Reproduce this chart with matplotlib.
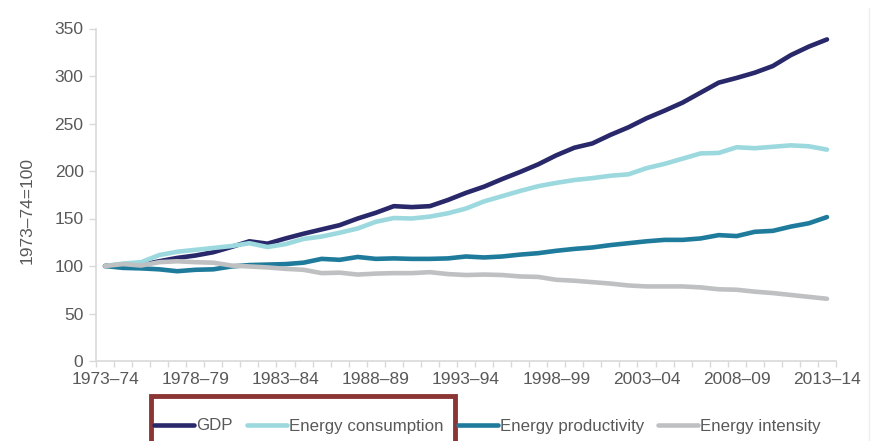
import matplotlib
matplotlib.use("Agg")
import matplotlib.pyplot as plt
from matplotlib.patches import Rectangle
from matplotlib.lines import Line2D

plt.rcParams['font.family'] = ['Liberation Sans', 'DejaVu Sans']

# ---- data ----
years = list(range(1973, 2014))
categories = [f"{y}\u2013{str(y + 1)[-2:]}" for y in years]
tick_labels = ["1973\u201374", "1978\u201379", "1983\u201384", "1988\u201389", "1993\u201394",
               "1998\u201399", "2003\u201304", "2008\u201309", "2013\u201314"]

gdp = [100, 101.5, 101, 105, 108.5, 111, 114.5, 120, 126, 123.5,
       129, 134, 138.5, 143, 150, 156, 163, 162, 163, 169.5,
       177, 183.5, 191.5, 199, 207, 216.5, 224.5, 229, 238, 246,
       255.5, 263.5, 272, 282.5, 293, 298, 303.5, 310.5, 322, 331, 338.5]
consumption = [100, 102.5, 104, 111.5, 115, 117, 119, 121, 124, 120,
               123, 128.5, 131, 135, 139.5, 146.5, 150.5, 150, 152, 155.5,
               160.5, 168, 173.5, 179, 184, 187.5, 190.5, 192.5, 195, 196.5,
               203, 207.5, 213, 218.5, 219, 225, 224, 225.5, 227, 226, 222.5]
productivity = [100, 98, 97.5, 96.5, 94.5, 96, 96.5, 99.5, 101, 101.5,
                102, 103.5, 107.5, 106.5, 109.5, 107.5, 108, 107.5, 107.5, 108,
                110, 109, 110, 112, 113.5, 116, 118, 119.5, 122, 124,
                126, 127.5, 127.5, 129, 132.5, 131.5, 136, 137, 141.5, 145, 151.5]
intensity = [100, 102, 100.5, 104, 105, 104, 103.5, 100.5, 99.5, 98.5,
             97, 96, 92.5, 93, 91, 92, 92.5, 92.5, 93.5, 91.5,
             90.5, 91, 90.5, 89, 88.5, 85.5, 84.5, 83, 81.5, 79.5,
             78.5, 78.5, 78.5, 77.5, 75.5, 75, 73, 71.5, 69.5, 67.5, 65.5]

series_names = ["GDP", "Energy consumption", "Energy productivity", "Energy intensity"]
series_values = [gdp, consumption, productivity, intensity]
colors = ["#28286B", "#9CD9DF", "#1F7B9C", "#BEC0C2"]

# ---- figure ----
W, H = 874, 441
fig = plt.figure(figsize=(W / 100, H / 100), dpi=100)
ax = fig.add_axes([96 / W, 1 - 361 / H, (836 - 96) / W, (361 - 28.5) / H])

x = list(range(len(categories)))
handles = []
for name, vals, c in zip(series_names, series_values, colors):
    h, = ax.plot(x, vals, color=c, lw=3.3, solid_capstyle='round',
                 solid_joinstyle='round', label=name)
    handles.append(h)

ax.set_xlim(-0.5, len(categories) - 0.5)
ax.set_ylim(0, 350)
ax.set_yticks(range(0, 351, 50))

label_pos = [categories.index(t) for t in tick_labels]
ax.set_xticks(label_pos)
ax.set_xticklabels(tick_labels)
ax.set_xticks([i - 0.5 for i in range(len(categories) + 1)], minor=True)

grey_axis = "#D9D9D9"
text_col = "#595959"
for s in ["top", "right"]:
    ax.spines[s].set_visible(False)
ax.spines["left"].set_color(grey_axis)
ax.spines["bottom"].set_color(grey_axis)
ax.spines["left"].set_linewidth(1.2)
ax.spines["bottom"].set_linewidth(1.2)

ax.tick_params(axis='x', which='major', length=0, pad=8, labelsize=12.5, labelcolor=text_col)
ax.tick_params(axis='x', which='minor', length=4, width=1, color=grey_axis, direction='out')
ax.tick_params(axis='y', which='major', length=5, width=1, color=grey_axis, pad=4,
               labelsize=12.5, labelcolor=text_col)

fig.text(27 / W, 1 - 210 / H, "1973\u201374=100", rotation=90, ha='center', va='center',
         fontsize=12.5, color=text_col)

leg = fig.legend(handles=handles, labels=series_names, loc='center', ncol=4,
                 bbox_to_anchor=(487.5 / W, 1 - 426 / H), frameon=False,
                 handlelength=2.35, handletextpad=0.12, columnspacing=0.85,
                 fontsize=12.2, labelcolor=text_col)

# highlight box around first two legend entries
rect = Rectangle((150.5 / W, 1 - 447 / H), (455.5 - 150.5) / W, (447 - 395.5) / H,
                 transform=fig.transFigure, fill=False, edgecolor="#8C3535", lw=3.5,
                 clip_on=False)
fig.add_artist(rect)

# faint frame edge at right
fig.add_artist(Line2D([869 / W, 869 / W], [0, 1 - 8 / H], transform=fig.transFigure,
                      color="#EFEFEF", lw=1))

fig.savefig("out.png", dpi=100)
